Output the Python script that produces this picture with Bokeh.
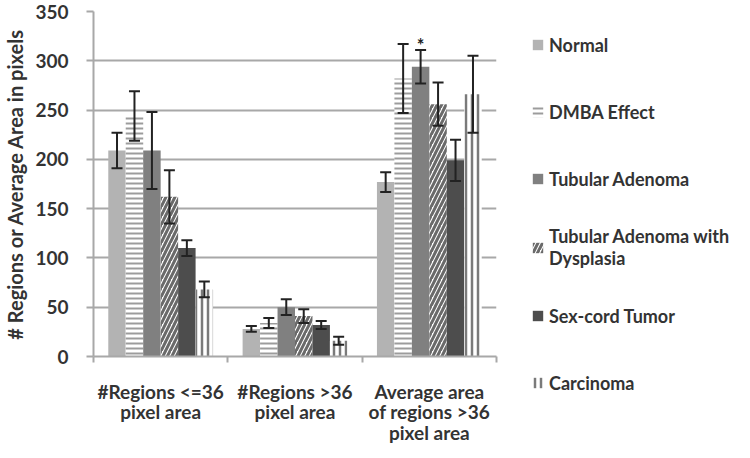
from bokeh.plotting import figure
from bokeh.models import ColumnDataSource, Whisker, TeeHead, FixedTicker, Legend, LegendItem
from bokeh.embed import file_html
from bokeh.resources import INLINE
from bokeh.core.properties import value

# ---- data ----
categories = ["#Regions <=36\npixel area", "#Regions >36\npixel area", "Average area\nof regions >36\npixel area"]
series = ["Normal", "DMBA Effect", "Tubular Adenoma", "Tubular Adenoma with\nDysplasia", "Sex-cord Tumor", "Carcinoma"]
normal_mean = [209, 28, 177]
normal_err = [18, 3, 10]
dmba_mean = [244, 34, 282]
dmba_err = [25, 5, 35]
ta_mean = [209, 50, 294]
ta_err = [39, 8, 17]
tad_mean = [162, 41, 256]
tad_err = [27, 7, 22]
sct_mean = [110, 32, 199]
sct_err = [8, 4, 21]
carc_mean = [68, 16, 266]
carc_err = [8, 4, 39]
significant = ["", "", "*"]  # marker above Tubular Adenoma

means = [normal_mean, dmba_mean, ta_mean, tad_mean, sct_mean, carc_mean]
errs = [normal_err, dmba_err, ta_err, tad_err, sct_err, carc_err]

# ---- styles ----
styles = [
    dict(fill_color="#b3b3b3", hatch_pattern=None),
    dict(fill_color="white", hatch_pattern="-", hatch_color="#9c9c9c", hatch_weight=2, hatch_scale=5),
    dict(fill_color="#808080", hatch_pattern=None),
    dict(fill_color="white", hatch_pattern="/", hatch_color="#6a6a6a", hatch_weight=3, hatch_scale=9),
    dict(fill_color="#4d4d4d", hatch_pattern=None),
    dict(fill_color="white", hatch_pattern="|", hatch_color="#7a7a7a", hatch_weight=2.5, hatch_scale=6),
]

FONT = "Lato"
TXT = "#333333"
GRID = "#a8a8a8"
bw = 0.13


def bar_style(st):
    kw = dict(fill_color=st["fill_color"], line_color=None)
    if st["hatch_pattern"]:
        kw.update(hatch_pattern=st["hatch_pattern"], hatch_color=st["hatch_color"],
                  hatch_weight=st["hatch_weight"], hatch_scale=st["hatch_scale"])
    return kw


p = figure(frame_width=403, frame_height=345, x_range=(0, 3), y_range=(0, 350),
           output_backend="svg", toolbar_location=None,
           min_border_left=85, min_border_right=254, min_border_top=11, min_border_bottom=94)
p.outline_line_color = None
p.xgrid.grid_line_color = None
p.ygrid.grid_line_color = GRID
p.ygrid.grid_line_width = 2
p.yaxis.ticker = FixedTicker(ticks=[0, 50, 100, 150, 200, 250, 300, 350])

items = []
for s, (m, e) in enumerate(zip(means, errs)):
    xs = [i + 0.5 + (s - 2.5) * bw for i in range(len(categories))]
    src = ColumnDataSource(dict(x=xs, top=m,
                                upper=[a + b for a, b in zip(m, e)],
                                lower=[a - b for a, b in zip(m, e)]))
    r = p.vbar(x="x", top="top", width=bw, bottom=0, source=src, **bar_style(styles[s]))
    items.append(LegendItem(label=series[s], renderers=[r]))
    w = Whisker(base="x", upper="upper", lower="lower", source=src, level="overlay",
                line_color="#222222", line_width=2,
                upper_head=TeeHead(size=11, line_color="#222222", line_width=2),
                lower_head=TeeHead(size=11, line_color="#222222", line_width=2))
    p.add_layout(w)
    if s == 2:
        sig_src = ColumnDataSource(dict(x=xs, y=src.data["upper"], t=significant))
        p.text(x="x", y="y", text="t", source=sig_src, text_font=value(FONT),
               text_font_size="18px", text_font_style="bold", text_color="#222222",
               text_align="center", text_baseline="bottom", y_offset=6)

# axes
p.xaxis.ticker = FixedTicker(ticks=[0.5, 1.5, 2.5], minor_ticks=[0, 1, 2, 3])
p.xaxis.major_label_overrides = {0.5: categories[0], 1.5: categories[1], 2.5: categories[2]}
p.xaxis.major_tick_out = 0
p.xaxis.major_tick_in = 0
p.xaxis.minor_tick_out = 6
p.xaxis.minor_tick_in = 0
p.xaxis.minor_tick_line_color = GRID
p.xaxis.minor_tick_line_width = 2
p.xaxis.axis_line_color = GRID
p.xaxis.axis_line_width = 2
p.xaxis.major_label_standoff = 17
p.xaxis.major_label_text_font = FONT
p.xaxis.major_label_text_font_size = "19px"
p.xaxis.major_label_text_font_style = "bold"
p.xaxis.major_label_text_color = TXT
p.xaxis.major_label_text_line_height = 0.9

p.yaxis.axis_line_color = GRID
p.yaxis.axis_line_width = 2
p.yaxis.major_tick_out = 7
p.yaxis.major_tick_in = 0
p.yaxis.major_tick_line_color = GRID
p.yaxis.major_tick_line_width = 2
p.yaxis.minor_tick_line_color = None
p.yaxis.major_label_standoff = 18
p.yaxis.major_label_text_font = FONT
p.yaxis.major_label_text_font_size = "19px"
p.yaxis.major_label_text_font_style = "bold"
p.yaxis.major_label_text_color = TXT
p.yaxis.axis_label = "# Regions or Average Area in pixels"
p.yaxis.axis_label_text_font = FONT
p.yaxis.axis_label_text_font_size = "20px"
p.yaxis.axis_label_text_font_style = "bold"
p.yaxis.axis_label_text_color = TXT
p.yaxis.axis_label_standoff = 5

# legend in the right side panel, offset from the panel's bottom-left corner
legend = Legend(items=items, location=(35, -47), orientation="vertical",
                background_fill_alpha=0, border_line_color=None,
                label_text_font=FONT, label_text_font_size="18px",
                label_text_font_style="bold", label_text_color=TXT,
                label_text_line_height=0.95,
                glyph_width=13, glyph_height=13, label_standoff=5,
                label_height=41, spacing=26, padding=0, margin=0)
p.add_layout(legend, "right")

open("out.html", "w").write(file_html(p, INLINE))
